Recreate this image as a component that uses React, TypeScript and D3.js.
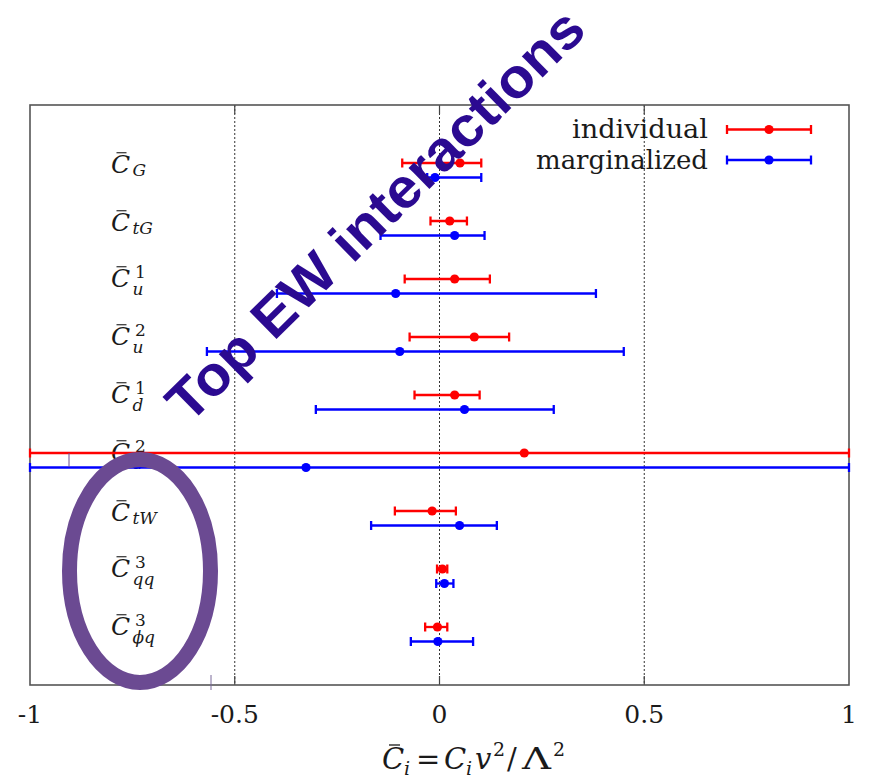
import React from "react";
import * as d3 from "d3";

// ---- data ----
const labelSub = ["G", "tG", "u", "u", "d", "d", "tW", "qq", "\u03D5q"];
const labelSup = ["", "", "1", "2", "1", "2", "", "3", "3"];

const indCenter = [0.05, 0.025, 0.037, 0.085, 0.037, 0.207, -0.018, 0.007, -0.005];
const indLow = [-0.091, -0.022, -0.085, -0.073, -0.061, -1.0, -0.109, -0.006, -0.035];
const indHigh = [0.102, 0.067, 0.123, 0.17, 0.098, 1.0, 0.04, 0.019, 0.019];

const margCenter = [-0.011, 0.037, -0.107, -0.097, 0.061, -0.326, 0.049, 0.012, -0.004];
const margLow = [-0.03, -0.144, -0.397, -0.568, -0.302, -1.0, -0.167, -0.008, -0.07];
const margHigh = [0.102, 0.11, 0.382, 0.45, 0.279, 1.0, 0.14, 0.034, 0.082];

const xTicks = [-1, -0.5, 0, 0.5, 1];
const xTickLabels = ["-1", "-0.5", "0", "0.5", "1"];
const gridTicks = [-0.5, 0, 0.5];
const legendLabels = ["individual", "marginalized"];
const legendWidths = [136, 172];
const seriesColors = ["#ff0000", "#0000ff"];
const titleText = "Top EW interactions";

// ---- layout ----
const W = 874;
const H = 779;
const left = 30;
const right = 849;
const top = 105;
const bottom = 685;

const x = d3.scaleLinear().domain([-1, 1]).range([left, right]);
const y = d3.scaleLinear().domain([0, 10]).range([top, bottom]);

const serif = "DejaVu Serif";
const ink = "#1a1a1a";

function ErrorBar({ c, lo, hi, yy, color }: { c: number; lo: number; hi: number; yy: number; color: string }) {
  const cap = 4.5;
  return (
    <g stroke={color} strokeWidth={2.3} fill={color}>
      <line x1={x(lo)} x2={x(hi)} y1={yy} y2={yy} />
      <line x1={x(lo)} x2={x(lo)} y1={yy - cap} y2={yy + cap} />
      <line x1={x(hi)} x2={x(hi)} y1={yy - cap} y2={yy + cap} />
      <circle cx={x(c)} cy={yy} r={4.6} stroke="none" />
    </g>
  );
}

function Label({ i }: { i: number }) {
  const center = (y(i + 1) + y(i + 1.25)) / 2;
  const sup = labelSup[i];
  const base = center + (sup ? 0.5 : 2.5);
  const lx = 111;
  return (
    <g fill={ink} fontFamily={serif}>
      <text x={lx} y={base} fontSize={25} fontStyle="italic">C</text>
      <line x1={lx + 5.5} x2={lx + 15.5} y1={base - 20} y2={base - 20} stroke={ink} strokeWidth={1.1} />
      {sup && (
        <text x={lx + 24} y={base - 8.5} fontSize={17}>{sup}</text>
      )}
      <text x={lx + 21.5} y={base + (sup ? 8 : 3)} fontSize={17} fontStyle="italic">{labelSub[i]}</text>
    </g>
  );
}

export default function App() {
  const rows = d3.range(labelSub.length);
  const legendY = [129.5, 160];
  const legX1 = 727;
  const legX2 = 811;
  return (
    <svg width={W} height={H} style={{ position: "absolute", left: 0, top: 0, background: "#fff" }}>
      {gridTicks.map((t) => (
        <line key={"g" + t} x1={x(t)} x2={x(t)} y1={top} y2={bottom} stroke="#333" strokeWidth={1} strokeDasharray="2,2" />
      ))}
      {gridTicks.map((t) => (
        <g key={"t" + t} stroke="#444" strokeWidth={1.2}>
          <line x1={x(t)} x2={x(t)} y1={bottom} y2={bottom - 9} />
          <line x1={x(t)} x2={x(t)} y1={top} y2={top + 9} />
        </g>
      ))}
      <rect x={left} y={top} width={right - left} height={bottom - top} fill="none" stroke="#555" strokeWidth={1.6} />

      {rows.map((i) => <Label key={"l" + i} i={i} />)}

      {rows.map((i) => (
        <g key={"e" + i}>
          <ErrorBar c={indCenter[i]} lo={indLow[i]} hi={indHigh[i]} yy={y(i + 1)} color={seriesColors[0]} />
          <ErrorBar c={margCenter[i]} lo={margLow[i]} hi={margHigh[i]} yy={y(i + 1.25)} color={seriesColors[1]} />
        </g>
      ))}

      {legendLabels.map((lab, k) => (
        <g key={"leg" + k}>
          <text
            x={708 - legendWidths[k]}
            y={legendY[k] + 8.5}
            fontFamily={serif}
            fontSize={26}
            fill={ink}
            textLength={legendWidths[k]}
            lengthAdjust="spacingAndGlyphs"
          >
            {lab}
          </text>
          <g stroke={seriesColors[k]} strokeWidth={2.3} fill={seriesColors[k]}>
            <line x1={legX1} x2={legX2} y1={legendY[k]} y2={legendY[k]} />
            <line x1={legX1} x2={legX1} y1={legendY[k] - 4.5} y2={legendY[k] + 4.5} />
            <line x1={legX2} x2={legX2} y1={legendY[k] - 4.5} y2={legendY[k] + 4.5} />
            <circle cx={(legX1 + legX2) / 2} cy={legendY[k]} r={4.6} stroke="none" />
          </g>
        </g>
      ))}

      {xTicks.map((t, k) => (
        <text key={"xl" + k} x={x(t)} y={723} fontFamily={serif} fontSize={25} textAnchor="middle" fill={ink}>{xTickLabels[k]}</text>
      ))}

      <g fontFamily={serif} fill={ink}>
        <text x={382} y={769} fontSize={29} fontStyle="italic">C</text>
        <line x1={389} x2={400} y1={745} y2={745} stroke={ink} strokeWidth={1.3} />
        <text x={404} y={775} fontSize={19} fontStyle="italic">i</text>
        <text x={416} y={769} fontSize={29}>=</text>
        <text x={444} y={769} fontSize={29} fontStyle="italic">C</text>
        <text x={466} y={775} fontSize={19} fontStyle="italic">i</text>
        <text x={475} y={769} fontSize={29} fontStyle="italic">v</text>
        <text x={493} y={756} fontSize={19}>2</text>
        <text x={507} y={769} fontSize={29}>/</text>
        <text x={522} y={769} fontSize={29} textLength={29} lengthAdjust="spacingAndGlyphs">{"\u039B"}</text>
        <text x={553} y={756} fontSize={19}>2</text>
      </g>

      <line x1={69} x2={69} y1={453} y2={467} stroke="#6b4a92" strokeWidth={1} />
      <line x1={211} x2={211} y1={675} y2={690} stroke="#7a6a9a" strokeWidth={1} />

      <ellipse cx={140} cy={571} rx={70.5} ry={111.5} fill="none" stroke="#6b4a92" strokeWidth={15} />

      <text
        x={189}
        y={425}
        transform="rotate(-44.5 189 425)"
        fontFamily="Liberation Sans"
        fontWeight="bold"
        fontSize={56}
        fill="#2b0a91"
        textLength={560}
        lengthAdjust="spacingAndGlyphs"
      >
        {titleText}
      </text>
    </svg>
  );
}
